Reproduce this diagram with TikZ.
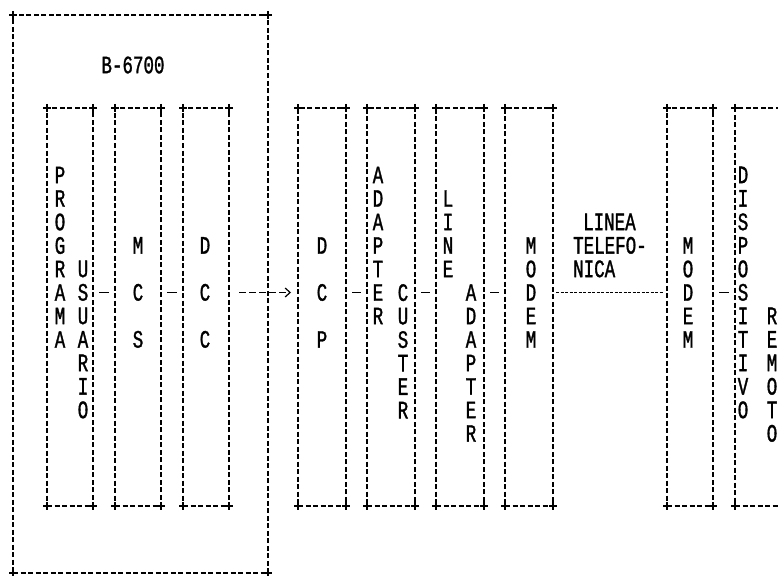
\documentclass[tikz,border=0pt]{standalone}
\usepackage{fontspec}
\newfontfamily\printfont[FakeStretch=0.7, FakeBold=1.2]{Liberation Mono}
\usepackage{tikz}
\usetikzlibrary{arrows.meta, positioning}

\begin{document}
\begin{tikzpicture}[x=1pt, y=-1pt,
    unit/.style={draw, line width=1.2pt, dash pattern=on 5pt off 2.5pt, minimum width=48pt, minimum height=398pt, inner sep=0pt, outer sep=0pt},
    vtext/.style={align=center, inner sep=0pt, font=\printfont\fontsize{25}{23.5}\selectfont},
    link/.style={line width=1.2pt, shorten <=6pt, shorten >=6pt},
    plus/.style={line width=1.2pt},
  ]
  \useasboundingbox (0,0) rectangle (778,575);
  \node[unit, minimum width=255pt, minimum height=558pt] (host) at (140.5,294) {};
  \node[vtext] (hostname) at (133,65) {B-6700};
  \node[unit, minimum width=46pt] (prog) at (70,307) {};
  \node[unit, minimum width=46pt, right=22pt of prog] (mcs) {};
  \node[unit, minimum width=46pt, right=22pt of mcs] (dcc) {};
  \node[unit, right=69pt of dcc] (dcp) {};
  \node[unit, right=21pt of dcp] (cluster) {};
  \node[unit, right=21pt of cluster] (lineadp) {};
  \node[unit, right=21pt of lineadp] (modem) {};
  \node[unit, minimum width=46pt, right=114pt of modem] (rmodem) {};
  \node[unit, minimum width=60pt, right=22pt of rmodem] (device) {};
  \foreach \b in {host,prog,mcs,dcc,dcp,cluster,lineadp,modem,rmodem,device}
    \foreach \c in {north west,north east,south west,south east}
      \draw[plus] (\b.\c) +(-4,0) -- +(4,0) +(0,-4) -- +(0,4);
  \node[vtext] (progtxt) at (60,257.25) {P\\R\\O\\G\\R\\A\\M\\A};
  \node[vtext] (usertxt) at (83,339.5) {U\\S\\U\\A\\R\\I\\O};
  \node[vtext] (mcstxt) at (138,292.5) {M\\[23.5pt]C\\[23.5pt]S};
  \node[vtext] (dcctxt) at (205,292.5) {D\\[23.5pt]C\\[23.5pt]C};
  \node[vtext] (dcptxt) at (322,292.5) {D\\[23.5pt]C\\[23.5pt]P};
  \node[vtext] (adptxt) at (378,245.5) {A\\D\\A\\P\\T\\E\\R};
  \node[vtext] (custtxt) at (403,351.25) {C\\U\\S\\T\\E\\R};
  \node[vtext] (linetxt) at (448,233.75) {L\\I\\N\\E};
  \node[vtext] (ladptxt) at (471,363) {A\\D\\A\\P\\T\\E\\R};
  \node[vtext] (modemtxt) at (531,292.5) {M\\O\\D\\E\\M};
  \node[vtext, align=left, anchor=west] (phonetxt) at (573,245.5) {\hspace*{10pt}LINEA\\TELEFO-\\NICA};
  \node[vtext] (rmodemtxt) at (688,292.5) {M\\O\\D\\E\\M};
  \node[vtext] (devtxt) at (743,292.5) {D\\I\\S\\P\\O\\S\\I\\T\\I\\V\\O};
  \node[vtext] (remtxt) at (772,374.75) {R\\E\\M\\O\\T\\O};
  \draw[link] ([yshift=14.5pt]prog.east) -- ([yshift=14.5pt]mcs.west);
  \draw[link] ([yshift=14.5pt]mcs.east) -- ([yshift=14.5pt]dcc.west);
  \draw[link, dash pattern=on 7pt off 3pt, -{Straight Barb[length=5pt, width=9pt]}, shorten <=10pt, shorten >=7pt] ([yshift=14.5pt]dcc.east) -- ([yshift=14.5pt]dcp.west);
  \draw[link] ([yshift=14.5pt]dcp.east) -- ([yshift=14.5pt]cluster.west);
  \draw[link] ([yshift=14.5pt]cluster.east) -- ([yshift=14.5pt]lineadp.west);
  \draw[link] ([yshift=14.5pt]lineadp.east) -- ([yshift=14.5pt]modem.west);
  \draw[link, line width=0.9pt, dash pattern=on 3pt off 1.5pt, shorten <=3pt, shorten >=3pt] ([yshift=14.5pt]modem.east) -- ([yshift=14.5pt]rmodem.west);
  \draw[link] ([yshift=14.5pt]rmodem.east) -- ([yshift=14.5pt]device.west);
\end{tikzpicture}
\end{document}
